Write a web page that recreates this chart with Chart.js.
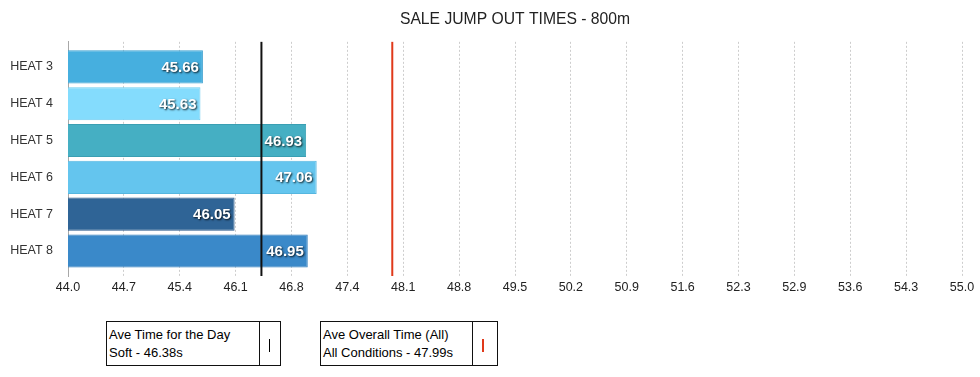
<!DOCTYPE html>
<html>
<head>
<meta charset="utf-8">
<title>Sale Jump Out Times - 800m</title>
<script src="https://cdn.jsdelivr.net/npm/chart.js@4.4.1/dist/chart.umd.min.js"></script>
<style>
	body { margin: 0; background: #fff; font-family: "Liberation Sans", Arial, sans-serif; }
	#chart-wrap { position: relative; width: 980px; height: 300px; }
	.key { position: absolute; top: 321px; height: 45px; box-sizing: border-box; border: 1px solid #111; display: flex; font-size: 13px; color: #000; background: #fff; }
	.key .txt { box-sizing: border-box; padding: 4px 0 0 2px; line-height: 17.5px; border-right: 1px solid #111; white-space: nowrap; }
	.key .sym { position: relative; flex: 1; }
	.key .sym i { position: absolute; top: 17px; width: 2px; height: 13px; }
</style>
</head>
<body>
<div id="chart-wrap"><canvas id="chart-jump-out"></canvas></div>

<div class="key" style="left:106px; width:175px;">
	<div class="txt" style="width:153px;">Ave Time for the Day<br>Soft - 46.38s</div>
	<div class="sym"><i style="left:9px; width:1px; background:#000;"></i></div>
</div>
<div class="key" style="left:320px; width:178px;">
	<div class="txt" style="width:152px;">Ave Overall Time (All)<br>All Conditions - 47.99s</div>
	<div class="sym"><i style="left:9px; background:#e0391a;"></i></div>
</div>

<script>
const CATEGORIES = ["HEAT 3", "HEAT 4", "HEAT 5", "HEAT 6", "HEAT 7", "HEAT 8"];
const TIMES = [45.66, 45.63, 46.93, 47.06, 46.05, 46.95];
const BAR_COLORS = ["#46afdf", "#84dcfd", "#45afc3", "#64c5ee", "#2f6496", "#3a89c9"];
const BAR_BORDERS = ["#3a9fcf", "#6fcdf0", "#3a9fb3", "#55b6df", "#28588a", "#2f7bba"];
const X_TICK_LABELS = ["44.0", "44.7", "45.4", "46.1", "46.8", "47.4", "48.1", "48.8", "49.5",
	"50.2", "50.9", "51.6", "52.3", "52.9", "53.6", "54.3", "55.0"];
const AVE_DAY = 46.38;
const AVE_OVERALL = 47.99;

Chart.defaults.font.family = '"Liberation Sans", Arial, sans-serif';
Chart.defaults.color = "#333";

//------------------------------------------------------------
// Plugins: average lines + value labels
//------------------------------------------------------------
const aveLines = {
	id: "aveLines",
	afterDatasetsDraw(chart) {
		const { ctx, chartArea, scales } = chart;
		const lines = [
			{ value: AVE_DAY, color: "#111", width: 2 },
			{ value: AVE_OVERALL, color: "#e0391a", width: 2 },
		];
		ctx.save();
		lines.forEach((l) => {
			const x = scales.x.getPixelForValue(l.value);
			ctx.beginPath();
			ctx.strokeStyle = l.color;
			ctx.lineWidth = l.width;
			ctx.moveTo(x, chartArea.top);
			ctx.lineTo(x, chartArea.bottom);
			ctx.stroke();
		});
		ctx.restore();
	},
};

const barLabels = {
	id: "barLabels",
	afterDatasetsDraw(chart) {
		const { ctx } = chart;
		const meta = chart.getDatasetMeta(0);
		ctx.save();
		ctx.font = 'bold 15px "Liberation Sans", Arial, sans-serif';
		ctx.fillStyle = "#fff";
		ctx.textAlign = "right";
		ctx.textBaseline = "middle";
		ctx.shadowColor = "rgba(0, 0, 0, 0.85)";
		ctx.shadowOffsetX = 1;
		ctx.shadowOffsetY = 1;
		ctx.shadowBlur = 2;
		meta.data.forEach((bar, i) => {
			ctx.fillText(TIMES[i].toFixed(2), bar.x - 4, bar.y + 1);
		});
		ctx.restore();
	},
};

//------------------------------------------------------------
// Chart
//------------------------------------------------------------
const CHART_DATA = {
	datasets: [
		{
			label: "Jump out time",
			data: TIMES.map((v, i) => ({ x: v, y: i })),
			backgroundColor: BAR_COLORS,
			borderColor: BAR_BORDERS,
			borderWidth: 1,
			categoryPercentage: 0.9,
			barPercentage: 1,
		},
	],
};

const CHART_CONFIG = {
	type: "bar",
	data: CHART_DATA,
	options: {
		indexAxis: "y",
		responsive: true,
		maintainAspectRatio: false,
		animation: false,
		layout: {
			padding: { left: 0, right: 18, top: 0, bottom: 0 },
		},
		plugins: {
			legend: { display: false },
			tooltip: { enabled: false },
			title: {
				display: true,
				fullSize: false,
				text: "SALE JUMP OUT TIMES - 800m",
				color: "#222",
				font: { size: 15.7, weight: "normal", lineHeight: 1.2 },
				padding: { top: 10, bottom: 13 },
			},
		},
		scales: {
			x: {
				type: "linear",
				min: 44,
				max: 55,
				z: 1,
				grid: {
					color: "#cdcdcd",
					drawTicks: false,
				},
				border: { display: false, dash: [2, 2] },
				ticks: {
					stepSize: 11 / 16,
					padding: 4,
					color: "#222",
					font: { size: 12.5 },
					maxRotation: 0,
					autoSkip: false,
					callback: (value, index) => X_TICK_LABELS[index],
				},
				afterFit: (scale) => {
					scale.height = 24;
				},
			},
			y: {
				type: "linear",
				reverse: true,
				offset: false,
				min: -0.68,
				max: 5.68,
				z: 1,
				grid: { display: false, drawTicks: false, offset: false },
				border: { display: true, color: "#a8a8a8", width: 1 },
				afterBuildTicks: (scale) => {
					scale.ticks = CATEGORIES.map((c, i) => ({ value: i }));
				},
				ticks: {
					padding: 15,
					color: "#333",
					font: { size: 12.5 },
					autoSkip: false,
					callback: (value) => CATEGORIES[value],
				},
				afterFit: (scale) => {
					scale.width = 68;
				},
			},
		},
	},
	plugins: [aveLines, barLabels],
};

const CHART_WRAPPER = document.getElementById("chart-jump-out");
if (CHART_WRAPPER) {
	new Chart(CHART_WRAPPER, CHART_CONFIG);
}
</script>
</body>
</html>
